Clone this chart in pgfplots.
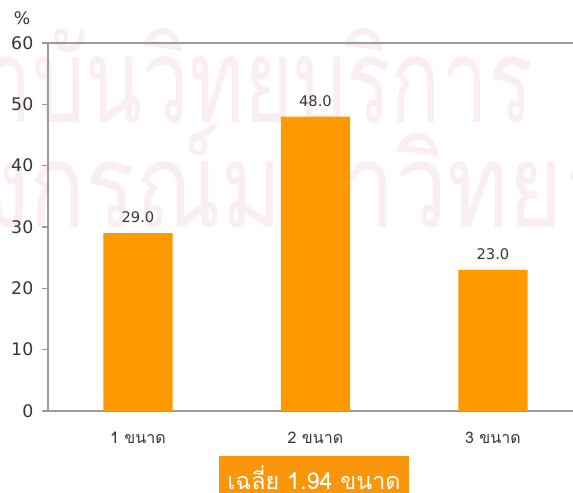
\documentclass[border=0pt]{standalone}
\usepackage{fontspec}
\usepackage{pgfplots}
\pgfplotsset{compat=1.18}
\setmainfont{DejaVu Sans}
\newfontfamily\thaifont[Script=Thai]{Loma}

\definecolor{barorange}{RGB}{255,153,0}
\definecolor{boxorange}{RGB}{250,150,10}
\definecolor{axisgray}{RGB}{155,155,155}
\definecolor{labelgray}{RGB}{55,55,55}
\definecolor{wmpink}{RGB}{250,237,243}

\pgfplotsset{/pgf/number format/assume math mode=true}

\begin{document}
\begin{tikzpicture}
\useasboundingbox (0,0) rectangle (429.75pt,369pt);

% background seal text
\begin{scope}[every node/.style={inner sep=0pt, text=wmpink,
    font=\thaifont\fontsize{88}{90}\selectfont}]
  \node[anchor=base east] at (24.5pt,277pt) {\scalebox{0.71}[1]{สถา}};
  \node[anchor=base west] at (24.5pt,277pt) {\scalebox{0.71}[1]{บันวิทยบริการ}};
  \node[anchor=base east] at (-12pt,198pt) {\scalebox{0.79}[1]{จุฬาล}};
  \node[anchor=base west] at (-12pt,198pt) {\scalebox{0.79}[1]{งกรณ์มหาวิทยาลัย}};
\end{scope}

\begin{axis}[
  at={(36pt,60.75pt)}, anchor=south west,
  width=393.75pt, height=276pt, scale only axis,
  xmin=-0.507, xmax=2.451, ymin=0, ymax=60,
  axis x line=bottom, axis y line=left,
  axis line style={-, draw=axisgray, line width=1.4pt},
  ytick={0,10,...,60},
  tick align=outside,
  major tick length=4.5pt,
  ytick style={draw=axisgray, line width=1pt},
  xtick={0,1,2},
  xticklabels={1 ขนาด, 2 ขนาด, 3 ขนาด},
  x tick style={draw=none},
  yticklabel style={font=\fontsize{13}{15}\selectfont, text=labelgray, xshift=-3pt},
  xticklabel style={font=\thaifont\fontsize{12}{14}\selectfont, text=labelgray, yshift=-8pt},
  ybar, bar width=0.39,
  nodes near coords={\pgfmathprintnumber[fixed,zerofill,precision=1]{\pgfplotspointmeta}},
  nodes near coords style={font=\fontsize{11}{13}\selectfont, text=labelgray, yshift=4pt},
  clip=false,
]
\addplot[fill=barorange, draw=none] coordinates {(0,29) (1,48) (2,23)};
\draw[axisgray, line width=2pt] (rel axis cs:0,1) -- (rel axis cs:1,1);
\end{axis}

\node[text=labelgray, font=\fontsize{13}{15}\selectfont] at (16.5pt,355.5pt) {\%};

% average box
\fill[boxorange] (164.25pt,-10pt) rectangle (306.75pt,27pt);
\node[text=white, font=\thaifont\fontsize{17.5}{19}\selectfont] at (235.5pt,11pt) {เฉลี่ย 1.94 ขนาด};
\end{tikzpicture}
\end{document}
